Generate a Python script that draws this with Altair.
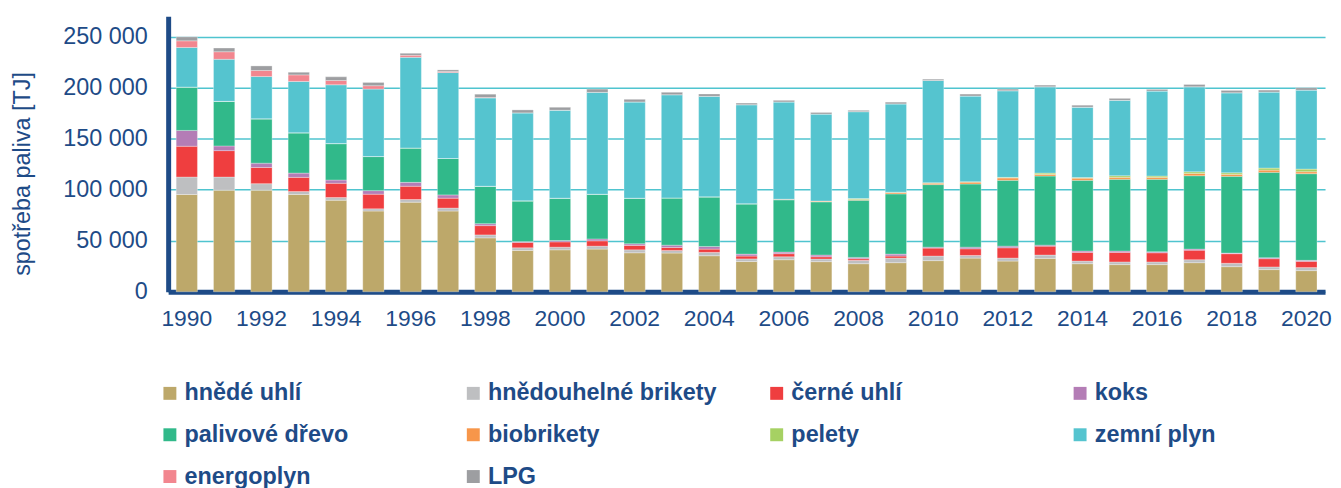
import altair as alt
import pandas as pd

years = list(range(1990, 2021))
fuels = ["hnědé uhlí", "hnědouhelné brikety", "černé uhlí", "koks",
         "palivové dřevo", "biobrikety", "pelety", "zemní plyn",
         "energoplyn", "LPG"]
colors = ["#BDA86A", "#BEBFC1", "#EF3E3F", "#B47DB6", "#31B98A",
          "#F7964A", "#A6D163", "#55C4CF", "#F2868F", "#9D9EA1"]

hnede_uhli = [95300, 99500, 99500, 95300, 89700, 79100, 87800, 79100, 52800, 40500,
              41100, 41800, 38200, 37900, 35300, 29600, 31400, 29500, 27500, 28500,
              30500, 33000, 30100, 32700, 27500, 26600, 26600, 28500, 24600, 21700, 20700]
hnedouhelne_brikety = [17100, 12900, 6400, 2900, 2600, 2200, 2600, 2900, 2900, 2600,
                       2600, 2900, 2900, 2600, 3300, 2600, 2900, 2600, 3300, 4500,
                       4500, 2600, 2900, 3300, 2600, 2600, 2600, 2900, 3300, 2600, 3000]
cerne_uhli = [30200, 25900, 15900, 13900, 14000, 14300, 13000, 9700, 9100, 5200,
              5200, 5200, 4300, 2900, 3200, 2800, 3000, 2200, 1600, 2000,
              7800, 6500, 10100, 8700, 8500, 9400, 9000, 9400, 9400, 8100, 6100]
koks = [15500, 4600, 4200, 4200, 3200, 3500, 3800, 3200, 1900, 900,
        1300, 1900, 1600, 2300, 2600, 1900, 1600, 1700, 1300, 1900,
        900, 1600, 1600, 1000, 1300, 1300, 1000, 1000, 600, 1000, 1000]
palivove_drevo = [42500, 43700, 43500, 39500, 35700, 33400, 33700, 35700, 36700, 39900,
                  41500, 43800, 44700, 46300, 48600, 49100, 51200, 52100, 56000, 59000,
                  61300, 61900, 64500, 67700, 69300, 70300, 71000, 71900, 75200, 83600, 84900]
biobrikety = [0, 0, 0, 0, 0, 0, 0, 0, 0, 0,
              0, 0, 0, 0, 0, 300, 600, 800, 600, 1400,
              1400, 1800, 2300, 1600, 2100, 1900, 1900, 2300, 1900, 2200, 1900]
pelety = [0, 0, 0, 0, 0, 0, 0, 0, 0, 0,
          0, 0, 0, 0, 0, 0, 0, 0, 1000, 300,
          500, 500, 600, 1300, 600, 1600, 1300, 1600, 1600, 2000, 2600]
zemni_plyn = [38800, 41200, 41400, 50300, 57600, 66100, 88800, 84200, 86500, 86200,
              86200, 99800, 94300, 101100, 98500, 97000, 95300, 85200, 85200, 86500,
              100100, 83900, 84900, 84600, 69000, 73900, 83300, 83300, 78400, 74500, 77400]
energoplyn = [6500, 7400, 5900, 6400, 4200, 3300, 2000, 1000, 500, 0,
              0, 0, 0, 0, 0, 0, 0, 0, 0, 0,
              0, 0, 0, 0, 0, 0, 0, 0, 0, 0, 0]
lpg = [3900, 3600, 4500, 2600, 3600, 3200, 1900, 1600, 3200, 2900,
       2900, 3200, 2600, 2300, 2300, 1600, 1600, 1600, 1300, 1700,
       1300, 1900, 1600, 1600, 1900, 1900, 1600, 2200, 2300, 1900, 2300]

series = [hnede_uhli, hnedouhelne_brikety, cerne_uhli, koks, palivove_drevo,
          biobrikety, pelety, zemni_plyn, energoplyn, lpg]
y_ticks = [0, 50000, 100000, 150000, 200000, 250000]

rows = []
for i, (name, vals) in enumerate(zip(fuels, series)):
    for yr, v in zip(years, vals):
        rows.append({"rok": str(yr), "palivo": name, "hodnota": v, "poradi": i})
df = pd.DataFrame(rows)

NAVY = "#1E4B87"
FONT = "Liberation Sans"

chart = alt.Chart(df).mark_bar(stroke="white", strokeWidth=0.6, strokeOpacity=0.5).encode(
    x=alt.X("rok:N", sort=[str(y) for y in years],
            scale=alt.Scale(paddingInner=0.43, paddingOuter=0.215),
            axis=alt.Axis(title=None, labelAngle=0, ticks=False,
                          labelExpr="toNumber(datum.value) % 2 == 0 ? datum.value : ''",
                          labelFont=FONT, labelFontSize=23, labelColor=NAVY,
                          labelPadding=16, domainColor=NAVY, domainWidth=5,
                          grid=False)),
    y=alt.Y("hodnota:Q", stack="zero",
            scale=alt.Scale(domain=[0, 270000], nice=False),
            axis=alt.Axis(title="spotřeba paliva [TJ]", values=y_ticks,
                          labelExpr="replace(format(datum.value, ','), ',', ' ')",
                          labelFont=FONT, labelFontSize=23.5, labelColor=NAVY,
                          labelPadding=21, ticks=False,
                          domainColor=NAVY, domainWidth=5,
                          grid=True, gridColor="#4FC4CF", gridWidth=1.5,
                          titleFont=FONT, titleFontSize=23.5, titleColor=NAVY,
                          titleFontWeight="normal", titleAngle=-90,
                          titleAlign="center", titleBaseline="middle",
                          titleX=-146, titleY=158)),
    color=alt.Color("palivo:N", scale=alt.Scale(domain=fuels, range=colors),
                    legend=alt.Legend(title=None, orient="none", legendX=-10, legendY=367,
                                      direction="horizontal",
                                      columns=4, gridAlign="all", columnPadding=48,
                                      rowPadding=17, symbolType="square", symbolSize=169,
                                      symbolStrokeWidth=0, labelFont=FONT,
                                      labelFontSize=23.5, labelFontWeight="bold",
                                      labelLimit=400,
                                      labelColor=NAVY, labelOffset=3)),
    order=alt.Order("poradi:Q"),
).properties(
    width=1163, height=277,
    autosize=alt.AutoSizeParams(type="none"),
    padding={"left": 161, "top": 7, "right": 8, "bottom": 196},
).configure_view(stroke=None)

chart.save("out.html", embed_options={"renderer": "svg", "actions": False})
